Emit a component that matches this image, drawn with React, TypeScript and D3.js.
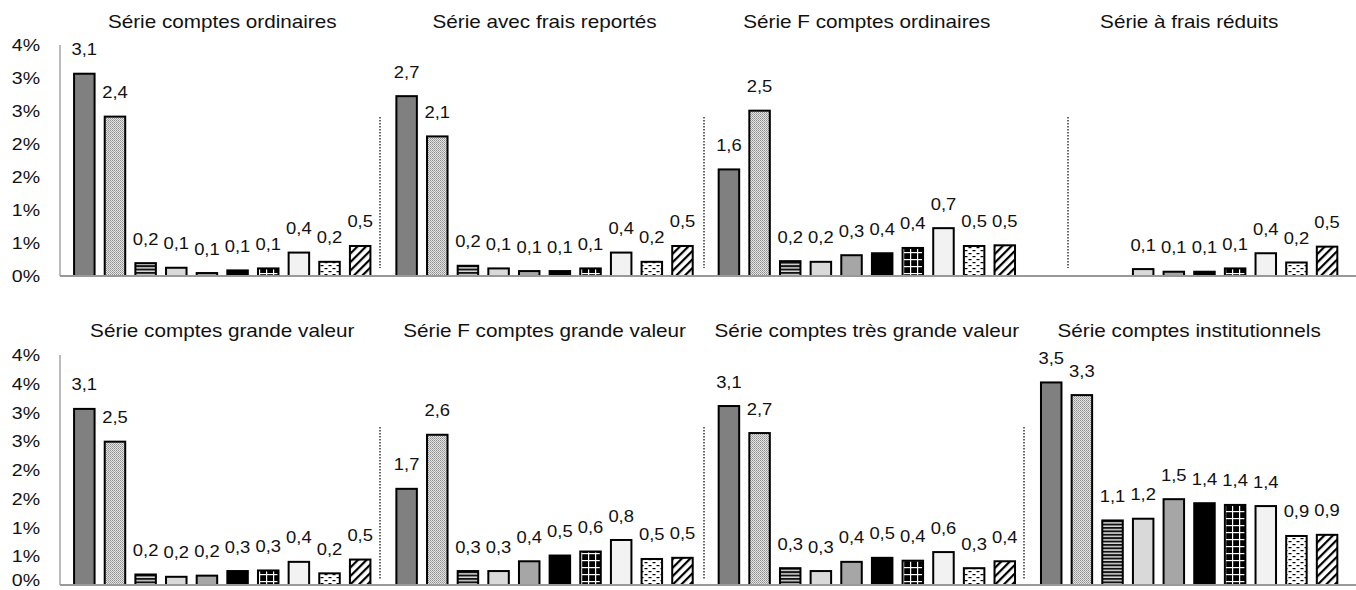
import React from "react";
import * as d3 from "d3";

// ---------- DATA ----------
const topTitles = [
  "Série comptes ordinaires",
  "Série avec frais reportés",
  "Série F comptes ordinaires",
  "Série à frais réduits",
];
const bottomTitles = [
  "Série comptes grande valeur",
  "Série F comptes grande valeur",
  "Série comptes très grande valeur",
  "Série comptes institutionnels",
];

const serieComptesOrdinaires = [3.08, 2.43, 0.21, 0.14, 0.06, 0.1, 0.13, 0.37, 0.23, 0.47];
const serieFraisReportes = [2.74, 2.13, 0.17, 0.13, 0.09, 0.09, 0.13, 0.37, 0.23, 0.47];
const serieFComptesOrdinaires = [1.63, 2.52, 0.24, 0.23, 0.33, 0.36, 0.44, 0.74, 0.47, 0.48];
const serieFraisReduits = [null, null, null, 0.12, 0.08, 0.08, 0.13, 0.36, 0.22, 0.46];

const serieGrandeValeur = [3.08, 2.51, 0.2, 0.16, 0.18, 0.26, 0.27, 0.42, 0.22, 0.46];
const serieFGrandeValeur = [1.69, 2.63, 0.26, 0.26, 0.43, 0.53, 0.6, 0.8, 0.47, 0.49];
const serieTresGrandeValeur = [3.13, 2.66, 0.31, 0.26, 0.42, 0.49, 0.44, 0.59, 0.31, 0.43];
const serieInstitutionnels = [3.54, 3.32, 1.14, 1.17, 1.51, 1.44, 1.41, 1.39, 0.87, 0.89];

const topTickValues = [0, 0.5, 1, 1.5, 2, 2.5, 3, 3.5];
const topTickLabels = ["0%", "1%", "1%", "2%", "2%", "3%", "3%", "4%"];
const bottomTickValues = [0, 0.5, 1, 1.5, 2, 2.5, 3, 3.5, 4];
const bottomTickLabels = ["0%", "1%", "1%", "2%", "2%", "3%", "3%", "4%", "4%"];

// ---------- STYLE / LAYOUT ----------
const W = 1356;
const H = 590;
const FONT = "'Liberation Sans', Arial, sans-serif";
const SX = 1.15; // horizontal text stretch of the original
const fills = [
  "#808080",
  "url(#pDots)",
  "url(#pStripes)",
  "#d9d9d9",
  "#a6a6a6",
  "#000000",
  "url(#pGrid)",
  "#f2f2f2",
  "url(#pDash)",
  "url(#pHatch)",
];
const fmt = d3.formatLocale({ decimal: ",", thousands: " ", grouping: [3], currency: ["", "€"] }).format(".1f");

const panelScale = d3.scaleBand<number>().domain([0, 1, 2, 3]).range([69, 69 + 4 * 322.3]);
const barStep = 30.65;

function Row({ titles, series, y, ticks, tickLabels, titleY, sepX, sepY }: any) {
  return (
    <g>
      {/* y axis */}
      <line x1={60} x2={60} y1={y.range()[1]} y2={y.range()[0]} stroke="#a6a6a6" strokeWidth={1.5} />
      {ticks.map((t: number, i: number) => (
        <text
          key={"t" + i}
          transform={`translate(40,${Math.min(y(t) + 6, H - 4.5)}) scale(${SX},1)`}
          textAnchor="end"
          fontSize={17}
          fontFamily={FONT}
          fill="#111"
        >
          {tickLabels[i]}
        </text>
      ))}
      {/* separators */}
      {sepX.map((sx: number, i: number) => (
        <line
          key={"s" + i}
          x1={sx}
          x2={sx}
          y1={sepY[0]}
          y2={sepY[1]}
          stroke="#444"
          strokeWidth={1.6}
          strokeDasharray="1.6 1.4"
        />
      ))}
      {series.map((vals: (number | null)[], p: number) => {
        const left = panelScale(p)!;
        const xb = d3
          .scaleBand<number>()
          .domain(d3.range(10))
          .range([left, left + 10 * barStep])
          .paddingInner(0.266)
          .paddingOuter(0.133);
        const bw = xb.bandwidth();
        const base = y(0);
        return (
          <g key={"p" + p}>
            <text
              transform={`translate(${left + 5 * barStep},${titleY}) scale(${SX},1)`}
              textAnchor="middle"
              fontSize={18}
              fontFamily={FONT}
              fill="#111"
            >
              {titles[p]}
            </text>
            {vals.map((v, i) => {
              if (v == null) return null;
              const x = xb(i)!;
              const top = y(v);
              return (
                <g key={i}>
                  <rect
                    x={x + 1}
                    y={top + 1}
                    width={bw - 2}
                    height={Math.max(0, base - top - 1)}
                    fill={fills[i]}
                    stroke="#000"
                    strokeWidth={2}
                  />
                  <text
                    transform={`translate(${x + bw / 2},${top - 17.5}) scale(${SX},1)`}
                    textAnchor="middle"
                    fontSize={16}
                    fontFamily={FONT}
                    fill="#111"
                  >
                    {fmt(v)}
                  </text>
                </g>
              );
            })}
          </g>
        );
      })}
      {/* x axis */}
      <line x1={60} x2={W} y1={y(0)} y2={y(0)} stroke="#999" strokeWidth={2} />
    </g>
  );
}

export default function App() {
  const yTop = d3.scaleLinear().domain([0, 3.5]).range([276, 45]);
  const yBottom = d3.scaleLinear().domain([0, 4]).range([585, 355]);
  return (
    <svg
      width={W}
      height={H}
      viewBox={`0 0 ${W} ${H}`}
      style={{ position: "absolute", left: 0, top: 0, background: "#fff" }}
    >
      <defs>
        <pattern id="pDots" width={2} height={2} patternUnits="userSpaceOnUse">
          <rect width={2} height={2} fill="#e4e4e4" shapeRendering="crispEdges" />
          <rect x={0} y={0} width={1} height={1} fill="#8f8f8f" shapeRendering="crispEdges" />
          <rect x={1} y={1} width={1} height={1} fill="#a8a8a8" shapeRendering="crispEdges" />
        </pattern>
        <pattern id="pStripes" width={4} height={3.4} patternUnits="userSpaceOnUse">
          <rect width={4} height={3.4} fill="#d9d9d9" />
          <rect width={4} height={1.9} fill="#111" />
        </pattern>
        <pattern id="pGrid" width={7} height={7} patternUnits="userSpaceOnUse">
          <rect width={7} height={7} fill="#000" />
          <rect x={0} y={0} width={7} height={1.2} fill="#fff" />
          <rect x={0} y={0} width={1.2} height={7} fill="#fff" />
        </pattern>
        <pattern id="pDash" width={8} height={6} patternUnits="userSpaceOnUse">
          <rect width={8} height={6} fill="#fff" />
          <rect x={0.5} y={1} width={3} height={1.2} fill="#000" />
          <rect x={4.5} y={4} width={3} height={1.2} fill="#000" />
        </pattern>
        <pattern id="pHatch" width={6} height={6} patternUnits="userSpaceOnUse" patternTransform="rotate(45)">
          <rect width={6} height={6} fill="#fff" />
          <rect x={0} y={0} width={2.2} height={6} fill="#000" />
        </pattern>
      </defs>
      <rect width={W} height={H} fill="#fff" />
      <Row
        titles={topTitles}
        series={[serieComptesOrdinaires, serieFraisReportes, serieFComptesOrdinaires, serieFraisReduits]}
        y={yTop}
        ticks={topTickValues}
        tickLabels={topTickLabels}
        titleY={28}
        sepX={[380, 704, 1068]}
        sepY={[117, 268]}
      />
      <Row
        titles={bottomTitles}
        series={[serieGrandeValeur, serieFGrandeValeur, serieTresGrandeValeur, serieInstitutionnels]}
        y={yBottom}
        ticks={bottomTickValues}
        tickLabels={bottomTickLabels}
        titleY={337}
        sepX={[380, 704, 1024]}
        sepY={[427, 579]}
      />
    </svg>
  );
}
